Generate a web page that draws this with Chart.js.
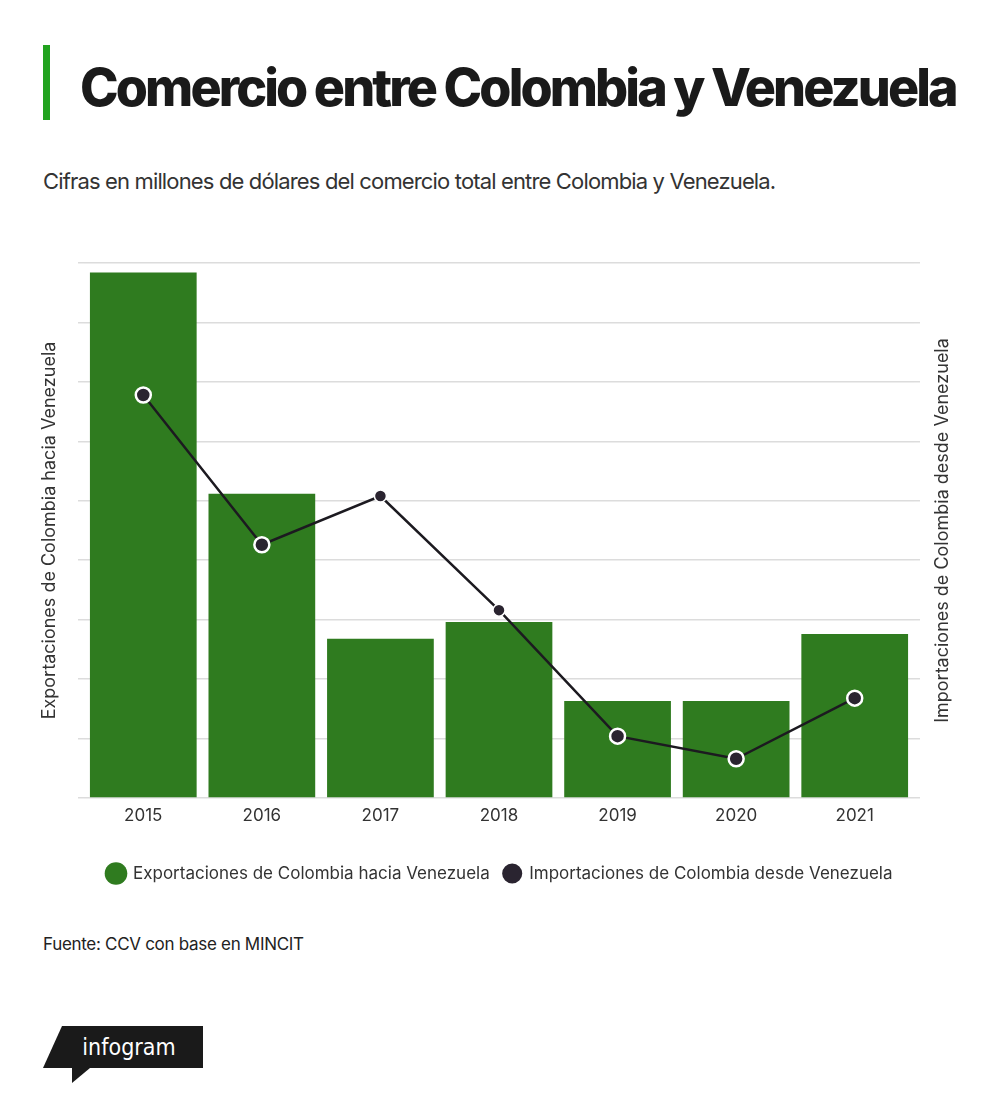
<!DOCTYPE html>
<html>
<head>
<meta charset="utf-8">
<script src="https://cdn.jsdelivr.net/npm/chart.js@4/dist/chart.umd.min.js"></script>
<style>
  body { margin: 0; background: #fff; font-family: Inter, "Noto Sans", sans-serif; }
  #page { position: relative; width: 1000px; height: 1106px; overflow: hidden; }
  #bar { position: absolute; left: 43px; top: 45px; width: 7px; height: 75px; background: #22a31f; }
  #title { position: absolute; left: 80px; top: 62px; font-size: 52px; font-weight: 800; color: #1a1a1a; letter-spacing: -2.9px; line-height: 1; white-space: nowrap; }
  #sub { position: absolute; left: 43px; top: 170px; font-size: 22px; color: #333; letter-spacing: -0.85px; line-height: 1; white-space: nowrap; }
  #wrap { position: absolute; left: 0; top: 230px; width: 1000px; height: 670px; }
  #src { position: absolute; left: 43px; top: 936px; font-size: 17px; color: #222; letter-spacing: -0.3px; line-height: 1; white-space: nowrap; }
  #logo { position: absolute; left: 43px; top: 1025px; }
</style>
</head>
<body>
<div id="page">
  <div id="bar"></div>
  <div id="title">Comercio entre Colombia y Venezuela</div>
  <div id="sub">Cifras en millones de dólares del comercio total entre Colombia y Venezuela.</div>
  <div id="wrap"><canvas id="mycanvas"></canvas></div>
  <div id="src">Fuente: CCV con base en MINCIT</div>
  <svg id="logo" width="162" height="62" viewBox="0 0 162 62">
    <polygon points="19,1 160,1 160,43 0,43" fill="#1a1a1a"/>
    <polygon points="29,43 47,43 29,58" fill="#1a1a1a"/>
    <text x="86" y="30" fill="#fff" font-family="'Liberation Sans Narrow', 'DejaVu Sans Condensed', sans-serif" font-size="23" text-anchor="middle">infogram</text>
  </svg>
</div>
<script>
var years = ["2015", "2016", "2017", "2018", "2019", "2020", "2021"];
var exportaciones = [2210, 1280, 670, 740, 408, 408, 690];
var importaciones = [339, 213, 254, 158, 52, 33, 84];
var exportLabel = "Exportaciones de Colombia hacia Venezuela";
var importLabel = "Importaciones de Colombia desde Venezuela";

// chart.js puts a right-hand title top-to-bottom, the original reads upwards
var rightTitle = {
	id: "rightTitle",
	afterDraw: function(chart) {
		var ctx = chart.ctx;
		var area = chart.chartArea;
		ctx.save();
		ctx.translate(943, (area.top + area.bottom) / 2);
		ctx.rotate(-Math.PI / 2);
		ctx.font = "18px Inter";
		ctx.fillStyle = "#333";
		ctx.textAlign = "center";
		ctx.textBaseline = "middle";
		ctx.fillText(importLabel, 0, 0);
		ctx.restore();
	}
};

var chartdata = {
	labels: years,
	datasets: [
		{
			type: "bar",
			label: exportLabel,
			order: 2,
			backgroundColor: "#2f7b1f",
			borderWidth: 0,
			barPercentage: 0.9,
			categoryPercentage: 1,
			yAxisID: "y",
			data: exportaciones
		},
		{
			type: "line",
			label: importLabel,
			order: 1,
			borderColor: "#1c1a20",
			borderWidth: 2.5,
			backgroundColor: "#2a2430",
			pointBackgroundColor: "#2a2430",
			pointBorderColor: "#fff",
			pointBorderWidth: [2.5, 2.5, 1.5, 1.5, 2.5, 2.5, 2.5],
			pointRadius: [7.5, 7.5, 6, 6, 7.5, 7.5, 7.5],
			lineTension: 0,
			fill: false,
			yAxisID: "y2",
			data: importaciones
		}
	]
};

var ctx = document.getElementById("mycanvas");

var comboChart = new Chart(ctx, {
	data: chartdata,
	plugins: [rightTitle],
	options: {
		responsive: true,
		maintainAspectRatio: false,
		animation: false,
		layout: { padding: { top: 33, bottom: 8, left: 0, right: 0 } },
		plugins: {
			tooltip: { enabled: false },
			legend: {
				position: "bottom",
				labels: {
					usePointStyle: true,
					pointStyle: "circle",
					boxWidth: 22,
					boxHeight: 16,
					padding: 14,
					color: "#333",
					font: { family: "Inter", size: 17 },
					sort: function(a, b) { return a.datasetIndex - b.datasetIndex; }
				}
			}
		},
		scales: {
			x: {
				grid: { display: false, drawTicks: false },
				border: { display: false },
				ticks: { color: "#333", font: { family: "Inter", size: 17 }, padding: 8 },
				afterFit: function(scale) { scale.height = 53; }
			},
			y: {
				position: "left",
				min: 0,
				max: 2250,
				ticks: { display: false, stepSize: 250 },
				grid: { color: "#dcdcdc", lineWidth: 1.5, tickLength: 6 },
				border: { display: false },
				title: {
					display: true,
					text: exportLabel,
					color: "#333",
					font: { family: "Inter", size: 18 },
					padding: { top: 39, bottom: 0 }
				},
				afterFit: function(scale) { scale.width = 84; }
			},
			y2: {
				position: "right",
				min: 0,
				max: 450,
				ticks: { display: false, stepSize: 50 },
				grid: { color: "#dcdcdc", lineWidth: 1.5, tickLength: 6, drawOnChartArea: false },
				border: { display: false },
				afterFit: function(scale) { scale.width = 86; }
			}
		}
	}
});
</script>
</body>
</html>
